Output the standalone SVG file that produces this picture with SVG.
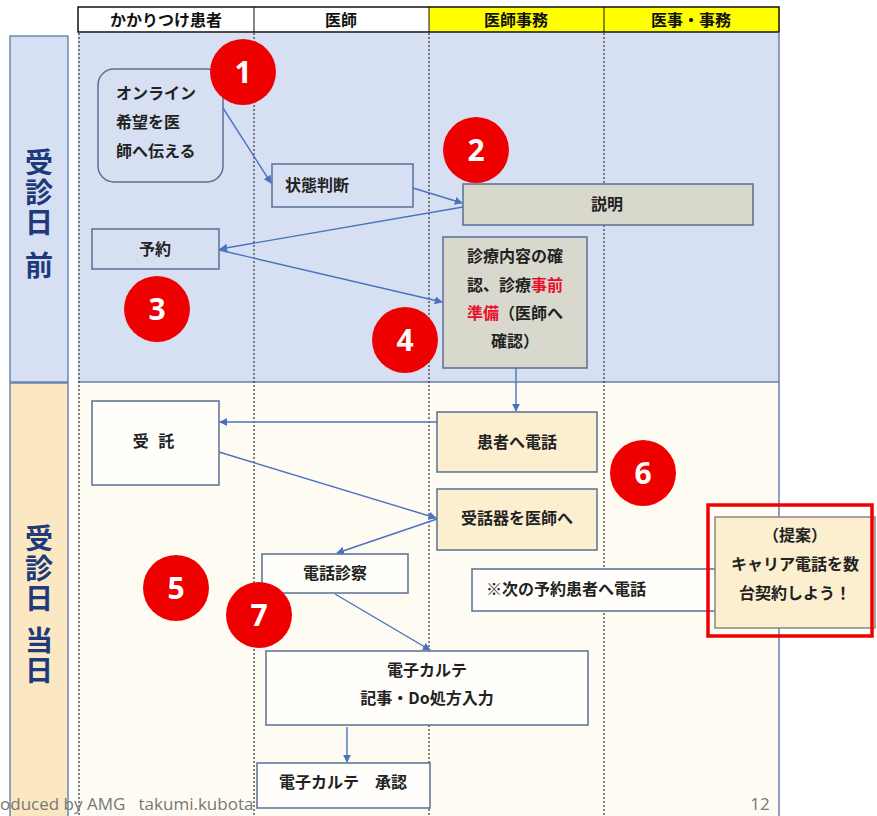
<svg xmlns="http://www.w3.org/2000/svg" width="877" height="816" viewBox="0 0 877 816">
<defs>
<marker id="ah" viewBox="0 0 10 10" refX="9" refY="5" markerWidth="8" markerHeight="8" orient="auto" markerUnits="userSpaceOnUse">
<path d="M0,0 L10,5 L0,10 z" fill="#4a72c0"/>
</marker>
<style>
.t{font-family:"Noto Sans CJK JP","Noto Sans",sans-serif;font-weight:bold;font-size:16px;fill:#222}
.h{font-family:"Noto Sans CJK JP",sans-serif;font-weight:bold;font-size:16px;fill:#111;text-anchor:middle}
.lbl{font-family:"Noto Sans CJK JP",sans-serif;font-weight:bold;font-size:28px;fill:#1f3a7a;writing-mode:vertical-rl;letter-spacing:2px}
.box{stroke:#5a6f95;stroke-width:1.5}
.gray{fill:#d9d8cc}
.cream{fill:#fcefcf}
.white{fill:#fffefb}
.num{fill:#ee0000}
.nt{font-family:"Open Sans","DejaVu Sans",sans-serif;font-weight:bold;font-size:30px;fill:#fff;text-anchor:middle}
.c{stroke:#4a72c0;stroke-width:1.4;fill:none;marker-end:url(#ah)}
.lane{stroke:#333;stroke-width:1.2;stroke-dasharray:2,2}
.red{fill:#e8102a}
.ft{font-family:"Open Sans","Noto Sans",sans-serif;font-size:17px;fill:#777;white-space:pre}
</style>
</defs>
<rect width="877" height="816" fill="#fff"/>
<!-- backgrounds -->
<rect x="78" y="33" width="701" height="349" fill="#d6e0f2"/>
<rect x="78" y="382" width="701" height="434" fill="#fefbf3"/>
<line x1="78" y1="382" x2="779" y2="382" stroke="#6b7fa8" stroke-width="1.5"/>
<line x1="779" y1="33" x2="779" y2="816" stroke="#6b7fa8" stroke-width="1.5"/>
<!-- header -->
<g id="header">
<rect x="78" y="7" width="176" height="25" fill="#fff"/>
<rect x="254" y="7" width="175" height="25" fill="#fff"/>
<rect x="429" y="7" width="175" height="25" fill="#ffff00"/>
<rect x="604" y="7" width="175" height="25" fill="#ffff00"/>
<rect x="78" y="7" width="701" height="25" fill="none" stroke="#111" stroke-width="1.5"/>
<line x1="254" y1="7" x2="254" y2="32" stroke="#111"/>
<line x1="429" y1="7" x2="429" y2="32" stroke="#111"/>
<line x1="604" y1="7" x2="604" y2="32" stroke="#111"/>
<text class="h" x="166" y="26">かかりつけ患者</text>
<text class="h" x="341" y="26">医師</text>
<text class="h" x="516" y="26">医師事務</text>
<text class="h" x="691" y="26">医事・事務</text>
</g>
<!-- lanes -->
<line class="lane" x1="79" y1="33" x2="79" y2="816"/>
<line class="lane" x1="254" y1="33" x2="254" y2="816"/>
<line class="lane" x1="429" y1="33" x2="429" y2="816"/>
<line class="lane" x1="604" y1="33" x2="604" y2="816"/>
<!-- left labels -->
<g id="label-before">
<rect x="10" y="36" width="58" height="346" fill="#d6e0f2" stroke="#4a6fa5" stroke-width="1.2"/>
<text class="lbl" x="39" y="148">受診日</text>
<text class="lbl" x="39" y="251">前</text>
</g>
<g id="label-day">
<rect x="10" y="383" width="58" height="440" fill="#fbe8c3" stroke="#4a6fa5" stroke-width="1.2"/>
<text class="lbl" x="39" y="524">受診日</text>
<text class="lbl" x="39" y="626">当日</text>
</g>
<!-- connectors -->
<g id="connectors">
<line class="c" x1="223" y1="108" x2="271" y2="183"/>
<line class="c" x1="413" y1="188" x2="462" y2="203"/>
<line class="c" x1="463" y1="207" x2="220" y2="249"/>
<line class="c" x1="219" y1="250" x2="442" y2="302"/>
<line class="c" x1="516" y1="368" x2="516" y2="411"/>
<line class="c" x1="437" y1="422" x2="220" y2="422"/>
<line class="c" x1="219" y1="452" x2="436" y2="518"/>
<line class="c" x1="437" y1="519" x2="337" y2="553"/>
<line class="c" x1="335" y1="594" x2="430" y2="650"/>
<line class="c" x1="347" y1="727" x2="347" y2="762"/>
</g>
<!-- nodes -->
<g id="n-online">
<rect class="box" x="98" y="69" width="125" height="113" rx="16" fill="#d6e0f2"/>
<text class="t" x="116" y="99">オンライン</text>
<text class="t" x="116" y="128">希望を医</text>
<text class="t" x="116" y="157">師へ伝える</text>
</g>
<g id="n-judge">
<rect class="box" x="272" y="164" width="141" height="43" fill="#d6e0f2"/>
<text class="t" x="285" y="191">状態判断</text>
</g>
<g id="n-yoyaku">
<rect class="box" x="92" y="229" width="127" height="40" fill="#d6e0f2"/>
<text class="t" x="155" y="255" text-anchor="middle">予約</text>
</g>
<g id="n-setsumei">
<rect class="box gray" x="463" y="184" width="290" height="41"/>
<text class="t" x="607" y="210" text-anchor="middle">説明</text>
</g>
<g id="n-shinryo">
<rect class="box gray" x="443" y="237" width="144" height="131"/>
<text class="t" x="515" y="262" text-anchor="middle">診療内容の確</text>
<text class="t" x="515" y="291" text-anchor="middle">認、診療<tspan class="red">事前</tspan></text>
<text class="t" x="515" y="319" text-anchor="middle"><tspan class="red">準備</tspan>（医師へ</text>
<text class="t" x="515" y="347" text-anchor="middle">確認）</text>
</g>
<g id="n-kanja-denwa">
<rect class="box cream" x="437" y="412" width="160" height="60"/>
<text class="t" x="517" y="448" text-anchor="middle">患者へ電話</text>
</g>
<g id="n-jutaku">
<rect class="box white" x="92" y="401" width="127" height="84"/>
<text class="t" x="155" y="447" text-anchor="middle" style="letter-spacing:3px">受 託</text>
</g>
<g id="n-juwaki">
<rect class="box cream" x="437" y="489" width="160" height="61"/>
<text class="t" x="517" y="524" text-anchor="middle">受話器を医師へ</text>
</g>
<g id="n-denwa-shinsatsu">
<rect class="box white" x="262" y="554" width="146" height="39"/>
<text class="t" x="335" y="579" text-anchor="middle">電話診察</text>
</g>
<g id="n-next">
<rect class="box white" x="472" y="569" width="245" height="42"/>
<text class="t" x="486" y="595">※次の予約患者へ電話</text>
</g>
<g id="n-teian">
<rect x="715" y="517" width="160" height="111" fill="#fcefcf" stroke="#888" stroke-width="1.5"/>
<text class="t" x="795" y="541" text-anchor="middle">（提案）</text>
<text class="t" x="795" y="570" text-anchor="middle">キャリア電話を数</text>
<text class="t" x="795" y="599" text-anchor="middle">台契約しよう！</text>
<rect x="708" y="505" width="164" height="131" fill="none" stroke="#ee0000" stroke-width="3.5"/>
</g>
<g id="n-karte">
<rect class="box white" x="266" y="651" width="322" height="74"/>
<text class="t" x="427" y="676" text-anchor="middle">電子カルテ</text>
<text class="t" x="427" y="704" text-anchor="middle">記事・Do処方入力</text>
</g>
<g id="n-shonin">
<rect class="box white" x="257" y="763" width="173" height="45"/>
<text class="t" x="343" y="788" text-anchor="middle">電子カルテ　承認</text>
</g>
<!-- number badges -->
<g id="b1"><circle class="num" cx="243" cy="72" r="33"/><text class="nt" x="243" y="83">1</text></g>
<g id="b2"><circle class="num" cx="476" cy="150" r="33"/><text class="nt" x="476" y="161">2</text></g>
<g id="b3"><circle class="num" cx="157" cy="309" r="33"/><text class="nt" x="157" y="320">3</text></g>
<g id="b4"><circle class="num" cx="405" cy="340" r="33"/><text class="nt" x="405" y="351">4</text></g>
<g id="b5"><circle class="num" cx="176" cy="588" r="33"/><text class="nt" x="176" y="599">5</text></g>
<g id="b6"><circle class="num" cx="643" cy="473" r="33"/><text class="nt" x="643" y="484">6</text></g>
<g id="b7"><circle class="num" cx="259" cy="615" r="33"/><text class="nt" x="259" y="626">7</text></g>
<!-- footer -->
<text class="ft" x="0" y="810">oduced by AMG   takumi.kubota</text>
<text class="ft" x="760" y="810" fill="#999" text-anchor="middle">12</text>
</svg>
